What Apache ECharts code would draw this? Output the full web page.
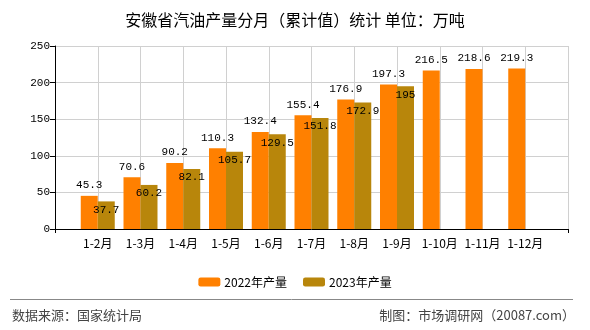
<!DOCTYPE html>
<html>
<head>
<meta charset="utf-8">
<script src="https://cdn.jsdelivr.net/npm/echarts@6/dist/echarts.min.js"></script>
<style>html,body{margin:0;padding:0;background:#fff;}#c{width:590px;height:330px;}</style>
</head>
<body>
<div id="c"></div>
<script>
var categories = ['1-2月','1-3月','1-4月','1-5月','1-6月','1-7月','1-8月','1-9月','1-10月','1-11月','1-12月'];
var values2022 = [45.3, 70.6, 90.2, 110.3, 132.4, 155.4, 176.9, 197.3, 216.5, 218.6, 219.3];
var values2023 = [37.7, 60.2, 82.1, 105.7, 129.5, 151.8, 172.9, 195, null, null, null];
var yTicks = [0, 50, 100, 150, 200, 250];
var titleText = '安徽省汽油产量分月（累计值）统计 单位：万吨';
var seriesNames = ['2022年产量', '2023年产量'];
var sourceText = '数据来源：国家统计局';
var creditText = '制图：市场调研网（20087.com）';

var xCats = [''].concat(categories, ['']);
function pad(a){ return [null].concat(a, [null]); }
var last = xCats.length - 1;

var chart = echarts.init(document.getElementById('c'), null, {renderer:'canvas'});
var labelFont = {fontFamily:'Liberation Mono', fontSize:11, color:'#000'};
chart.setOption({
  animation:false,
  title:{text:titleText, left:'center', top:7, textStyle:{fontFamily:'Noto Sans CJK SC', fontSize:16, fontWeight:'normal', color:'#000'}},
  grid:{left:55, right:22, top:46, bottom:101},
  legend:{data:seriesNames, left:'center', top:271, itemWidth:22, itemHeight:9, itemGap:16,
    textStyle:{fontFamily:'Noto Sans CJK SC', fontSize:12, color:'#000', padding:[0,0,0,-1]}},
  xAxis:{type:'category', data:xCats, boundaryGap:false,
    axisLine:{lineStyle:{color:'#000', width:1}},
    axisTick:{show:true, length:4, interval:function(i){return i===0||i===last;}, lineStyle:{color:'#000'}},
    axisLabel:{interval:0, margin:8, fontFamily:'Noto Sans CJK SC', fontSize:12, color:'#000'},
    splitLine:{show:true, interval:0, lineStyle:{color:'#d0d0d0', width:1}}},
  yAxis:{type:'value', min:yTicks[0], max:yTicks[yTicks.length-1], interval:50,
    axisLine:{show:true, lineStyle:{color:'#000'}},
    axisTick:{show:true, length:5, lineStyle:{color:'#000'}},
    axisLabel:{margin:5, fontFamily:'Liberation Mono', fontSize:11, color:'#000'},
    splitLine:{show:true, lineStyle:{color:'#d0d0d0', width:1}}},
  series:[
    {name:seriesNames[0], type:'bar', data:pad(values2022), barWidth:17, barGap:'0%',
      itemStyle:{color:'#FF8000'},
      label:{show:true, position:'top', distance:5, textStyle:labelFont}},
    {name:seriesNames[1], type:'bar', data:pad(values2023), barWidth:17, barGap:'0%',
      itemStyle:{color:'#B8860B'},
      label:{show:true, position:'insideTop', distance:3, textStyle:labelFont}}
  ],
  graphic:[
    {type:'line', shape:{x1:10, y1:299.5, x2:573, y2:299.5}, style:{stroke:'#888', lineWidth:1}},
    {type:'text', left:12, top:309, style:{text:sourceText, font:'13px "Noto Sans CJK SC"', fill:'#444'}},
    {type:'text', right:15, top:309, style:{text:creditText, font:'13px "Noto Sans CJK SC"', fill:'#444'}}
  ]
});
</script>
</body>
</html>
